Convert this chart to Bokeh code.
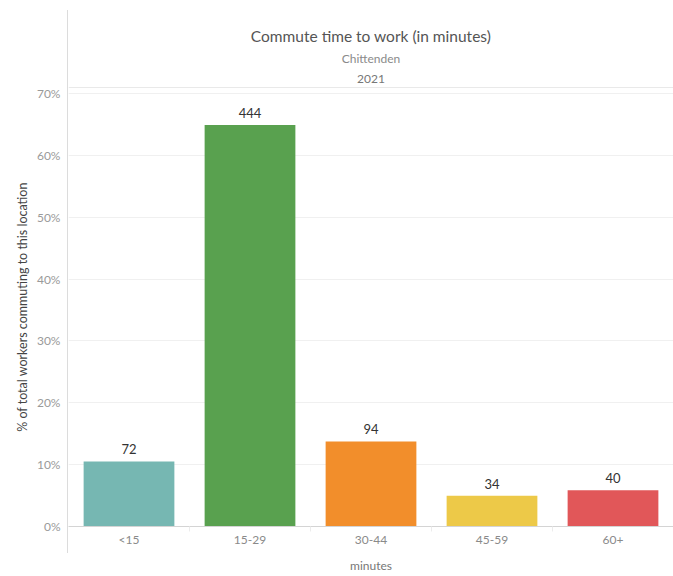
from bokeh.plotting import figure
from bokeh.models import (ColumnDataSource, FixedTicker, NumeralTickFormatter,
                          Range1d, Span, Title, InlineStyleSheet)
from bokeh.core.properties import value
from bokeh.embed import file_html
from bokeh.resources import INLINE

# Commute time buckets and worker counts (Chittenden, 2021)
categories = ["<15", "15-29", "30-44", "45-59", "60+"]
workers = [72, 444, 94, 34, 40]
bar_colors = ["#76b7b2", "#59a14f", "#f28e2b", "#edc948", "#e15759"]
y_ticks = [0.0, 0.1, 0.2, 0.3, 0.4, 0.5, 0.6, 0.7]

total = sum(workers)
share = [w / total for w in workers]
xpos = [i + 0.5 for i in range(len(categories))]

src = ColumnDataSource(dict(
    x=xpos, top=share, color=bar_colors,
    label=[str(w) for w in workers],
))

FONT = "Lato"
Y_TOP = 0.7097

p = figure(width=673, height=576, output_backend="svg", toolbar_location=None,
           x_range=Range1d(0, len(categories)), y_range=Range1d(0, Y_TOP),
           min_border_left=68, min_border_right=0, min_border_top=87,
           min_border_bottom=50, outline_line_color=None, title=None)

p.vbar(x="x", top="top", width=0.75, bottom=0, color="color", line_color=None,
       source=src)
p.text(x="x", y="top", text="label", source=src, text_align="center",
       text_baseline="bottom", y_offset=-7, text_font=value(FONT),
       text_font_size="13px", text_color="#333333")

# y axis
p.yaxis.ticker = FixedTicker(ticks=y_ticks)
p.yaxis.formatter = NumeralTickFormatter(format="0%")
p.yaxis.axis_line_color = None
p.yaxis.major_tick_line_color = None
p.yaxis.major_tick_out = 0
p.yaxis.minor_tick_line_color = None
p.yaxis.minor_tick_out = 0
p.yaxis.major_label_text_font = FONT
p.yaxis.major_label_text_font_size = "12px"
p.yaxis.major_label_text_color = "#9a9a9a"
p.yaxis.major_label_standoff = 8
p.yaxis.axis_label = "% of total workers commuting to this location"
p.yaxis.axis_label_text_font = FONT
p.yaxis.axis_label_text_font_size = "12.5px"
p.yaxis.axis_label_text_font_style = "normal"
p.yaxis.axis_label_text_color = "#444444"
p.yaxis.axis_label_standoff = 4

# x axis: labels at bucket centres, separators between buckets
p.xaxis.ticker = FixedTicker(ticks=xpos, minor_ticks=[1, 2, 3, 4])
p.xaxis.major_label_overrides = {x: c for x, c in zip(xpos, categories)}
p.xaxis.axis_line_color = "#d4d4d4"
p.xaxis.major_tick_line_color = None
p.xaxis.major_tick_out = 0
p.xaxis.major_tick_in = 0
p.xaxis.minor_tick_line_color = "#ececec"
p.xaxis.minor_tick_out = 5
p.xaxis.minor_tick_in = 0
p.xaxis.major_label_text_font = FONT
p.xaxis.major_label_text_font_size = "12px"
p.xaxis.major_label_text_color = "#8a8a8a"
p.xaxis.major_label_standoff = 0
p.xaxis.axis_label = "minutes"
p.xaxis.axis_label_text_font = FONT
p.xaxis.axis_label_text_font_size = "12px"
p.xaxis.axis_label_text_font_style = "normal"
p.xaxis.axis_label_text_color = "#777777"
p.xaxis.axis_label_standoff = 8

p.xgrid.grid_line_color = None
p.ygrid.grid_line_color = "#f0f0f0"
p.ygrid.ticker = FixedTicker(ticks=y_ticks)

# header divider
p.add_layout(Span(location=Y_TOP, dimension="width", line_color="#d4d4d4",
                  line_width=1))

# titles, stacked upward from the plot area
for text, size, color, gap in [
    ("2021", "12px", "#777777", 9),
    ("Chittenden", "12px", "#8a8a8a", 6),
    ("Commute time to work (in minutes)", "15.5px", "#555555", 2),
]:
    p.add_layout(Title(text=text, align="center", text_font=FONT,
                       text_font_size=size, text_font_style="normal",
                       text_color=color, standoff=gap), "above")

# pane border running the full height of the chart
p.stylesheets = [InlineStyleSheet(css="""
:host::after {
  content: "";
  position: absolute;
  left: 67px;
  top: 10px;
  width: 1px;
  height: 543px;
  background: #dcdcdc;
  pointer-events: none;
}
""")]

open("out.html", "w").write(file_html(p, INLINE))
